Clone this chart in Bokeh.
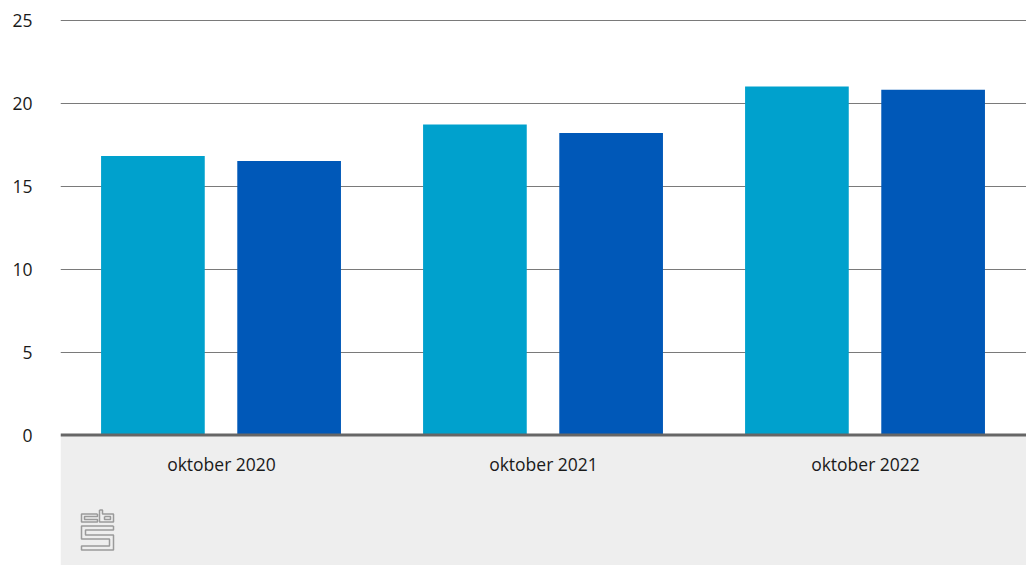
from bokeh.plotting import figure
from bokeh.models import FactorRange, Range1d, FixedTicker, BoxAnnotation, Span, ColumnDataSource
from bokeh.transform import dodge
from bokeh.core.properties import value
from bokeh.embed import file_html
from bokeh.resources import INLINE

# ---- data ----
categories = ["oktober 2020", "oktober 2021", "oktober 2022"]
series_a = [16.8, 18.7, 21.0]   # light blue
series_b = [16.5, 18.2, 20.8]   # dark blue
y_ticks = [0, 5, 10, 15, 20, 25]

# ---- layout constants ----
W, H = 1026, 565
BORDER_L, BORDER_R, BORDER_T = 60, 0, 18
PX_PER_UNIT_Y = 16.6
y_top = 25 + 1.5 / PX_PER_UNIT_Y
frame_h = H - BORDER_T
y_bottom = y_top - frame_h / PX_PER_UNIT_Y
frame_w = W - BORDER_L - BORDER_R
px_per_cat = frame_w / len(categories)

LIGHT = "#00a1cd"
DARK = "#0058b8"
FONT = "Open Sans"

p = figure(
    x_range=FactorRange(*categories, range_padding=0),
    y_range=Range1d(y_bottom, y_top),
    width=W, height=H,
    output_backend="svg", toolbar_location=None,
    min_border_left=BORDER_L, min_border_right=BORDER_R,
    min_border_top=BORDER_T, min_border_bottom=0,
)
p.outline_line_color = None
p.background_fill_color = "white"
p.border_fill_color = "white"

# grey band below the axis
p.add_layout(BoxAnnotation(top=0, fill_color="#eeeeee", fill_alpha=1,
                           line_color=None, level="underlay"))

src = ColumnDataSource(dict(cat=categories, a=series_a, b=series_b))
p.vbar(x=dodge("cat", -0.213, range=p.x_range), top="a", width=0.322,
       source=src, fill_color=LIGHT, line_color=None)
p.vbar(x=dodge("cat", 0.21, range=p.x_range), top="b", width=0.322,
       source=src, fill_color=DARK, line_color=None)

# axis line at zero
p.add_layout(Span(location=0, dimension="width", line_color="#666666",
                  line_width=3, level="overlay"))

# category labels
p.text(x="cat", y=0, text="cat", source=src, y_offset=29,
       text_align="center", text_baseline="middle",
       text_font=value(FONT), text_font_size="17.5px", text_color="#1a1a1a")

# axes / grid
p.xaxis.visible = False
p.xgrid.grid_line_color = None
p.ygrid.ticker = FixedTicker(ticks=[t for t in y_ticks if t > 0])
p.ygrid.grid_line_color = "#7a7a7a"
p.ygrid.grid_line_width = 1
p.yaxis.ticker = FixedTicker(ticks=y_ticks)
p.yaxis.axis_line_color = None
p.yaxis.major_tick_line_color = None
p.yaxis.minor_tick_line_color = None
p.yaxis.major_label_standoff = 22
p.yaxis.major_label_text_font = FONT
p.yaxis.major_label_text_font_size = "17.5px"
p.yaxis.major_label_text_color = "#1a1a1a"

# cbs logo (decoration), defined in a 32x40 pixel box
logo_paths = [
    [(16, 4), (0, 4), (0, 12), (16, 12), (16, 9.5), (3, 9.5), (3, 6.5), (16, 6.5), (16, 4)],
    [(18, 0), (18, 12), (32, 12), (32, 4), (21, 4), (21, 0), (18, 0)],
    [(23, 6.5), (29, 6.5), (29, 9.5), (23, 9.5), (23, 6.5)],
    [(32, 16), (0, 16), (0, 29), (28, 29), (28, 36), (0, 36), (0, 40), (32, 40),
     (32, 25), (4, 25), (4, 20), (32, 20), (32, 16)],
]
LOGO_X0, LOGO_Y0 = 21, 75  # px from frame left / below zero line
xs = [[(LOGO_X0 + px) / px_per_cat for px, py in path] for path in logo_paths]
ys = [[-(LOGO_Y0 + py) / PX_PER_UNIT_Y for px, py in path] for path in logo_paths]
p.multi_line(xs=xs, ys=ys, line_color="#9a9a9a", line_width=1.5)

open("out.html", "w").write(file_html(p, INLINE))
